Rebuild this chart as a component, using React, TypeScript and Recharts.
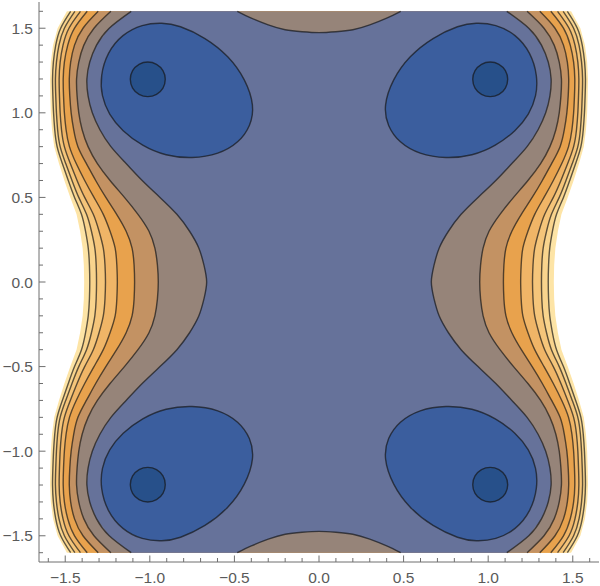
import { ScatterChart, Scatter, XAxis, YAxis } from "recharts";

// y positions at which the contour lines were read (upper half, mirrored below)
const yLevels = [0, 0.1, 0.2, 0.3, 0.4, 0.5, 0.6, 0.7, 0.8, 0.9, 1.0, 1.1, 1.2, 1.3, 1.4, 1.5, 1.6];

// x of each right-hand contour line at yLevels
const c3 = [0.664, 0.68, 0.71, 0.765, 0.84, 0.94, 1.045, 1.14, 1.23, 1.295, 1.34, 1.365, 1.372, 1.355, 1.315, 1.24, 1.11];
const c4 = [0.95, 0.955, 0.97, 1.005, 1.07, 1.15, 1.235, 1.31, 1.365, 1.4, 1.42, 1.43, 1.433, 1.42, 1.39, 1.33, 1.23];
const c5 = [1.09, 1.093, 1.105, 1.14, 1.196, 1.26, 1.32, 1.375, 1.425, 1.45, 1.465, 1.473, 1.476, 1.468, 1.445, 1.395, 1.305];
const c6 = [1.192, 1.195, 1.205, 1.235, 1.275, 1.33, 1.385, 1.435, 1.475, 1.495, 1.505, 1.51, 1.512, 1.505, 1.485, 1.445, 1.37];
const c7 = [1.262, 1.265, 1.275, 1.3, 1.334, 1.385, 1.43, 1.47, 1.505, 1.522, 1.53, 1.534, 1.536, 1.53, 1.513, 1.478, 1.41];
const c8 = [1.315, 1.317, 1.325, 1.345, 1.374, 1.42, 1.46, 1.497, 1.53, 1.545, 1.552, 1.556, 1.558, 1.552, 1.537, 1.505, 1.443];
const c9 = [1.355, 1.357, 1.364, 1.38, 1.404, 1.445, 1.482, 1.517, 1.548, 1.562, 1.569, 1.573, 1.575, 1.57, 1.556, 1.527, 1.468];
const rangeEdge = [1.388, 1.39, 1.397, 1.412, 1.433, 1.47, 1.505, 1.537, 1.565, 1.578, 1.585, 1.588, 1.59, 1.585, 1.572, 1.545, 1.49];

// brown bump at the top centre (right half)
const bumpX = [0, 0.1, 0.2, 0.3, 0.4, 0.483];
const bumpY = [1.474, 1.479, 1.491, 1.52, 1.56, 1.6];

// blue basin around the upper right minimum
const blobX = [0.381, 0.434, 0.533, 0.671, 0.828, 0.927, 1.045, 1.164, 1.252, 1.292, 1.286, 1.243, 1.164, 1.045, 0.907, 0.75, 0.592, 0.473, 0.404];
const blobY = [1.04, 1.198, 1.336, 1.445, 1.518, 1.534, 1.524, 1.464, 1.356, 1.218, 1.1, 0.991, 0.893, 0.804, 0.745, 0.729, 0.754, 0.824, 0.922];

// innermost ring around the minimum
const ringX = [1.12, 1.106, 1.066, 1.012, 0.958, 0.918, 0.904, 0.918, 0.958, 1.012, 1.066, 1.106];
const ringY = [1.198, 1.252, 1.291, 1.305, 1.291, 1.252, 1.198, 1.144, 1.105, 1.091, 1.105, 1.144];

const sideLevels = [rangeEdge, c9, c8, c7, c6, c5, c4];
const sideColors = ["#fde4a6", "#f9d48d", "#f5c57a", "#f0b567", "#e8a24d", "#c39263", "#968479"];
const basinColor = "#66729a";
const blobColor = "#3b5e9e";
const ringColor = "#27508a";

const ticks = [-1.6, -1.5, -1.4, -1.3, -1.2, -1.1, -1, -0.9, -0.8, -0.7, -0.6, -0.5, -0.4, -0.3, -0.2, -0.1, 0,
  0.1, 0.2, 0.3, 0.4, 0.5, 0.6, 0.7, 0.8, 0.9, 1, 1.1, 1.2, 1.3, 1.4, 1.5, 1.6];
const majorTicks = [-1.5, -1, -0.5, 0, 0.5, 1, 1.5];

const DOMAIN: [number, number] = [-1.655, 1.655];
const frameColor = "#6e6e6e";
const textColor = "#5a5a5a";
const lineStyle = { stroke: "#141414", strokeOpacity: 0.68, strokeWidth: 1.4, fill: "none" };

type Pt = { x: number; y: number };

// right-hand line, top to bottom
function rightCurve(xs: number[]): Pt[] {
  const top = yLevels.map((y, i) => ({ x: xs[i], y })).reverse();
  const bottom = yLevels.slice(1).map((y, i) => ({ x: xs[i + 1], y: -y }));
  return [...top, ...bottom];
}
// left-hand line, bottom to top
function leftCurve(xs: number[]): Pt[] {
  return rightCurve(xs).map((p) => ({ x: -p.x, y: p.y })).reverse();
}

const topBump: Pt[] = [
  ...bumpX.map((x, i) => ({ x: -x, y: bumpY[i] })).reverse(),
  ...bumpX.slice(1).map((x, i) => ({ x, y: bumpY[i + 1] })),
];
const bottomBump: Pt[] = topBump.map((p) => ({ x: -p.x, y: -p.y }));

const quadrants = [[1, 1], [-1, 1], [-1, -1], [1, -1]];

const isMajor = (v: number) => majorTicks.some((m) => Math.abs(m - v) < 1e-6);
const fmt = (v: number) => (v < -1e-9 ? "\u2212" : "") + Math.abs(v).toFixed(1);

const Nothing = () => <g />;

function tickFor(side: "b" | "t" | "l" | "r") {
  return (props: any) => {
    const { x, y, payload } = props;
    const v = payload.value;
    const len = isMajor(v) ? 6.5 : 4;
    let line;
    if (side === "b") line = <line x1={x} y1={y} x2={x} y2={y - len} />;
    else if (side === "t") line = <line x1={x} y1={y} x2={x} y2={y + len} />;
    else if (side === "l") line = <line x1={x} y1={y} x2={x + len} y2={y} />;
    else line = <line x1={x} y1={y} x2={x - len} y2={y} />;
    return (
      <g stroke={frameColor} strokeWidth={1}>
        {line}
        {isMajor(v) && side === "b" && (
          <text x={x} y={y + 21} textAnchor="middle" fill={textColor} stroke="none"
            fontSize={15.5} fontFamily="'Liberation Sans', Arial, sans-serif">{fmt(v)}</text>
        )}
        {isMajor(v) && side === "l" && (
          <text x={x - 6} y={y + 5.5} textAnchor="end" fill={textColor} stroke="none"
            fontSize={15.5} fontFamily="'Liberation Sans', Arial, sans-serif">{fmt(v)}</text>
        )}
      </g>
    );
  };
}

export default function App() {
  const fills: { pts: Pt[]; color: string }[] = [];
  sideLevels.forEach((xs, i) => {
    fills.push({ pts: [...rightCurve(xs), ...leftCurve(xs)], color: sideColors[i] });
  });
  fills.push({ pts: [...rightCurve(c3), ...bottomBump, ...leftCurve(c3), ...topBump], color: basinColor });

  const lines: Pt[][] = [];
  [c3, c4, c5, c6, c7, c8, c9].forEach((xs) => {
    lines.push(rightCurve(xs));
    lines.push(leftCurve(xs));
  });
  lines.push(topBump, bottomBump);

  const blobs = quadrants.map(([sx, sy]) => blobX.map((x, i) => ({ x: sx * x, y: sy * blobY[i] })));
  const rings = quadrants.map(([sx, sy]) => ringX.map((x, i) => ({ x: sx * x, y: sy * ringY[i] })));

  return (
    <div style={{ position: "absolute", left: 0, top: 0, background: "#fff" }}>
      <ScatterChart width={600} height={586} margin={{ top: 2, right: 1, left: 0, bottom: 0 }}>
        <XAxis xAxisId="b" type="number" dataKey="x" domain={DOMAIN} ticks={ticks} interval={0}
          tickSize={0} tickMargin={0} height={24} tickLine={false} tick={tickFor("b")}
          axisLine={{ stroke: frameColor }} allowDataOverflow />
        <XAxis xAxisId="t" orientation="top" type="number" dataKey="x" domain={DOMAIN} ticks={ticks}
          interval={0} tickSize={0} tickMargin={0} height={0} tickLine={false} tick={tickFor("t")}
          axisLine={{ stroke: frameColor }} allowDataOverflow />
        <YAxis yAxisId="l" type="number" dataKey="y" domain={DOMAIN} ticks={ticks} interval={0}
          tickSize={0} tickMargin={0} width={39} tickLine={false} tick={tickFor("l")}
          axisLine={{ stroke: frameColor }} allowDataOverflow />
        <YAxis yAxisId="r" orientation="right" type="number" dataKey="y" domain={DOMAIN} ticks={ticks}
          interval={0} tickSize={0} tickMargin={0} width={0} tickLine={false} tick={tickFor("r")}
          axisLine={{ stroke: frameColor }} allowDataOverflow />
        {fills.map((f, i) => (
          <Scatter key={`fill-${i}`} xAxisId="b" yAxisId="l" data={f.pts} shape={Nothing}
            line={{ fill: f.color, stroke: "none" }} lineType="joint" lineJointType="linear"
            isAnimationActive={false} legendType="none" />
        ))}
        {lines.map((pts, i) => (
          <Scatter key={`line-${i}`} xAxisId="b" yAxisId="l" data={pts} shape={Nothing}
            line={lineStyle} lineType="joint" lineJointType="natural"
            isAnimationActive={false} legendType="none" />
        ))}
        {blobs.map((pts, i) => (
          <Scatter key={`blob-${i}`} xAxisId="b" yAxisId="l" data={pts} shape={Nothing}
            line={{ ...lineStyle, fill: blobColor }} lineType="joint" lineJointType="basisClosed"
            isAnimationActive={false} legendType="none" />
        ))}
        {rings.map((pts, i) => (
          <Scatter key={`ring-${i}`} xAxisId="b" yAxisId="l" data={pts} shape={Nothing}
            line={{ ...lineStyle, fill: ringColor }} lineType="joint" lineJointType="basisClosed"
            isAnimationActive={false} legendType="none" />
        ))}
      </ScatterChart>
    </div>
  );
}
